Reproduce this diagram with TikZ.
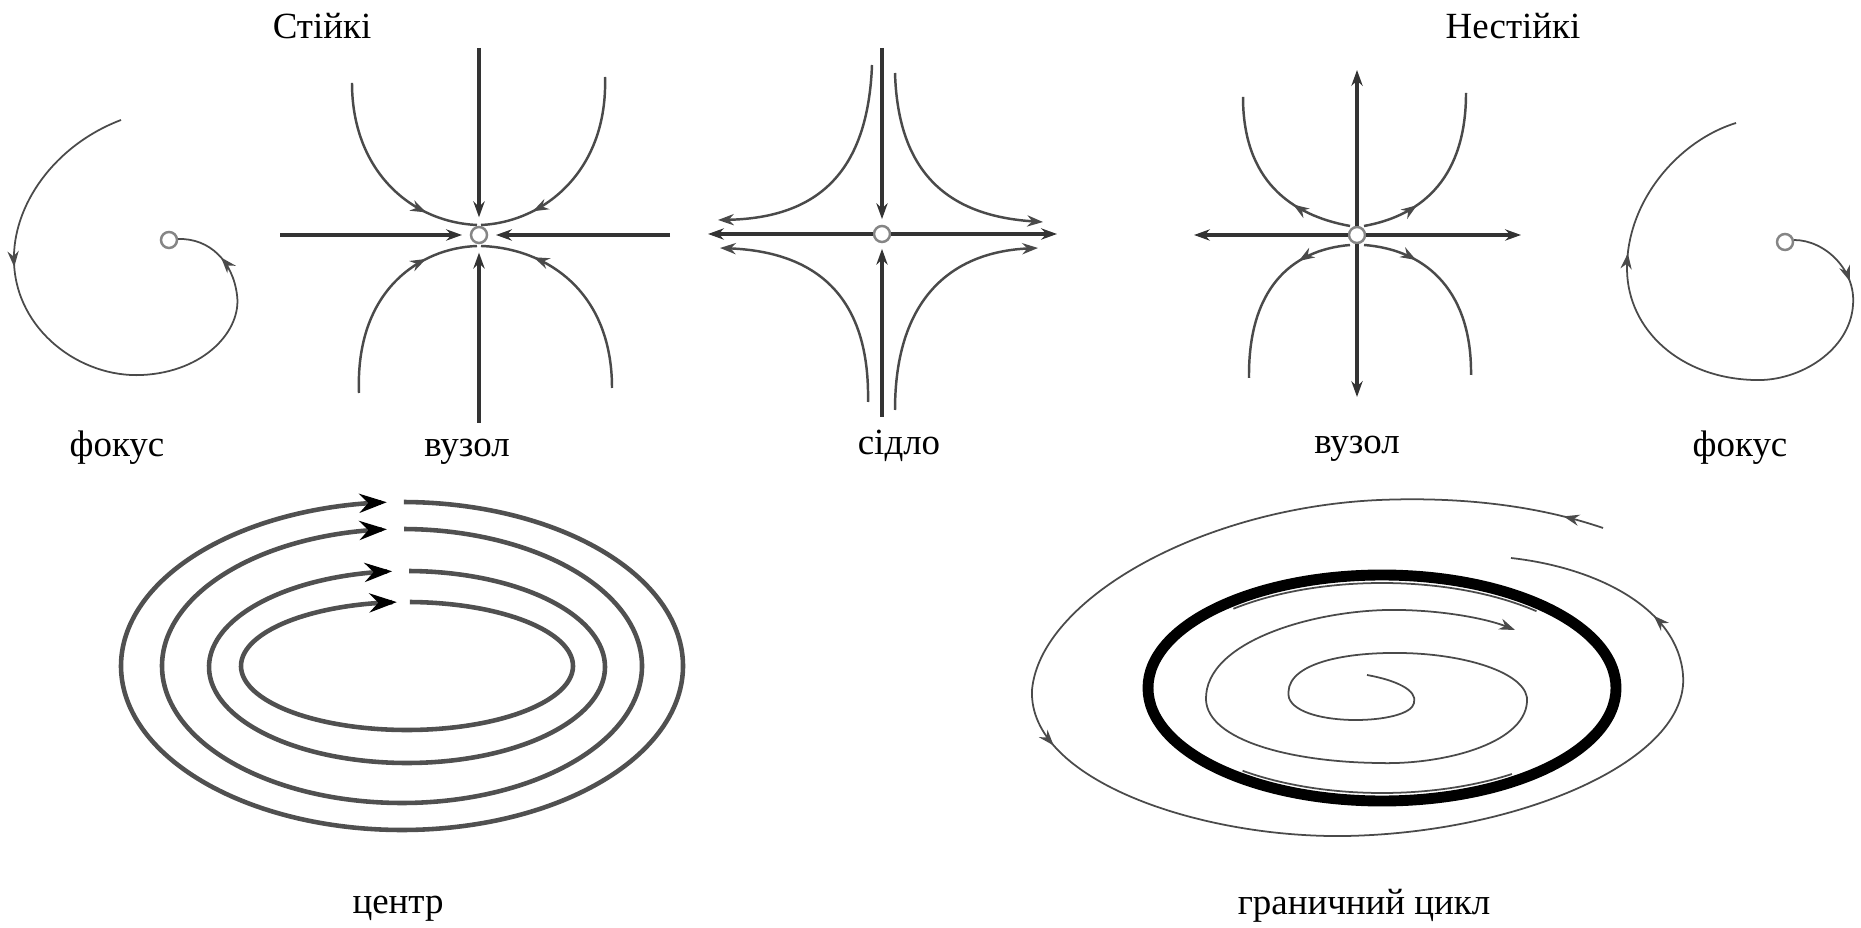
\documentclass[tikz,border=0pt]{standalone}
\usepackage{fontspec}
\setmainfont{Liberation Serif}
\usetikzlibrary{arrows.meta, decorations.markings}
\definecolor{trajgray}{HTML}{4A4A4A}
\definecolor{axisgray}{HTML}{333333}
\definecolor{ptgray}{HTML}{858585}
\definecolor{ringgray}{HTML}{505050}
\tikzset{
    sarrow/.tip={Stealth[length=4.5pt, width=3.2pt]},
    barrow/.tip={Stealth[length=7.8pt, width=5.4pt, color=black]},
}

\begin{document}
\begin{tikzpicture}[
    x=0.01cm, y=-0.01cm,
    lbl/.style={anchor=base, font=\fontsize{10.5}{12.6}\selectfont, inner sep=0pt},
    eqpt/.style={circle, draw=ptgray, line width=0.7pt, fill=white, minimum size=0.16cm, inner sep=0pt},
    axisline/.style={draw=axisgray, line width=0.9pt},
    orbit/.style={draw=trajgray, line width=0.7pt},
    spiral/.style={draw=trajgray, line width=0.5pt},
    arr/.style={-sarrow},
    flow/.style={postaction={decorate, decoration={markings, mark=at position #1 with {\arrow{sarrow}}}}},
    ring/.style={draw=ringgray, line width=1.3pt, -barrow},
    limitring/.style={draw=black, line width=3.1pt},
]
\useasboundingbox (0,0) rectangle (1861,928);

% headings
\node[lbl] (stable) at (322,39) {Стійкі};
\node[lbl] (unstable) at (1513,39) {Нестійкі};

% equilibrium points
\node[eqpt] (sfocus) at (169,240) {};
\node[eqpt] (snode) at (479,235) {};
\node[eqpt] (saddle) at (882,234) {};
\node[eqpt] (unode) at (1357,235) {};
\node[eqpt] (ufocus) at (1785,242) {};

% stable focus
\draw[spiral, flow=0.32, flow=0.92] (121,120) .. controls (55,145) and (12,205) .. (14,262)
    .. controls (16,330) and (80,378) .. (142,375)
    .. controls (205,372) and (242,330) .. (237,295)
    .. controls (233,262) and (210,238) .. (178,239);

% stable node
\draw[axisline, arr, shorten >=2.2pt] (280,235) -- (snode);
\draw[axisline, arr, shorten >=2.2pt] (670,235) -- (snode);
\draw[axisline, arr, shorten >=2.4pt] (479,48) -- (snode);
\draw[axisline, arr, shorten >=2.4pt] (479,423) -- (snode);
\draw[orbit, flow=0.75] (352,83) .. controls (352,170) and (410,222) .. (477,225);
\draw[orbit, flow=0.75] (605,77) .. controls (608,170) and (545,222) .. (481,225);
\draw[orbit, flow=0.75] (359,393) .. controls (355,290) and (420,248) .. (477,246);
\draw[orbit, flow=0.75] (612,388) .. controls (612,290) and (545,248) .. (481,246);

% saddle
\draw[axisline, arr, shorten >=1.6pt] (882,48) -- (saddle);
\draw[axisline, arr, shorten >=1.6pt] (882,417) -- (saddle);
\draw[axisline, arr] (saddle) -- (708,234);
\draw[axisline, arr] (saddle) -- (1057,234);
\draw[orbit, arr] (872,65) .. controls (868,170) and (820,218) .. (718,220);
\draw[orbit, arr] (895,73) .. controls (898,175) and (950,216) .. (1043,222);
\draw[orbit, arr] (868,402) .. controls (870,300) and (820,252) .. (720,248);
\draw[orbit, arr] (895,410) .. controls (895,300) and (950,252) .. (1038,248);

% unstable node
\draw[axisline, arr] (unode) -- (1194,235);
\draw[axisline, arr] (unode) -- (1521,235);
\draw[axisline, arr] (unode) -- (1357,70);
\draw[axisline, arr] (unode) -- (1357,397);
\draw[orbit, flow=0.33] (1350,226) .. controls (1290,215) and (1243,180) .. (1243,97);
\draw[orbit, flow=0.31] (1364,226) .. controls (1425,215) and (1466,175) .. (1466,93);
\draw[orbit, flow=0.29] (1350,245) .. controls (1290,250) and (1248,290) .. (1249,378);
\draw[orbit, flow=0.29] (1364,245) .. controls (1430,250) and (1472,295) .. (1471,375);

% unstable focus
\draw[spiral, flow=0.12, flow=0.71] (1794,240) .. controls (1825,240) and (1856,270) .. (1853,305)
    .. controls (1850,350) and (1800,382) .. (1754,380)
    .. controls (1680,378) and (1628,330) .. (1627,270)
    .. controls (1626,200) and (1680,140) .. (1736,123);

% top row captions
\node[lbl] (sfocuslbl) at (117,457) {фокус};
\node[lbl] (snodelbl) at (467,457) {вузол};
\node[lbl] (saddlelbl) at (899,455) {сідло};
\node[lbl] (unodelbl) at (1357,454) {вузол};
\node[lbl] (ufocuslbl) at (1740,457) {фокус};

% centre
\draw[ring] plot[domain=-89.6:266.9, samples=180, smooth] ({402+281*cos(\x)},{666+164*sin(\x)});
\draw[ring] plot[domain=-89.5:266.4, samples=180, smooth] ({402+240*cos(\x)},{666+137*sin(\x)});
\draw[ring] plot[domain=-89.4:265.7, samples=160, smooth] ({407+198*cos(\x)},{667+96*sin(\x)});
\draw[ring] plot[domain=-89.0:266.5, samples=160, smooth] ({407+166*cos(\x)},{666+64*sin(\x)});
\node[lbl] (centrelbl) at (398,913) {центр};

% limit cycle
\draw[limitring] (1382,688) ellipse [x radius=234, y radius=113];
\draw[spiral] plot[domain=-131:-47, samples=60, smooth] ({1382+226.5*cos(\x)},{688+105*sin(\x)});
\draw[spiral] plot[domain=55:128, samples=50, smooth] ({1382+226.5*cos(\x)},{688+105*sin(\x)});
\draw[spiral, arr] (1367,675) .. controls (1395,680) and (1418,690) .. (1414,703)
    .. controls (1410,725) and (1300,728) .. (1289,698)
    .. controls (1282,665) and (1340,652) .. (1401,653)
    .. controls (1470,654) and (1530,675) .. (1527,702)
    .. controls (1524,745) and (1440,765) .. (1379,763)
    .. controls (1290,762) and (1208,740) .. (1206,700)
    .. controls (1204,640) and (1320,608) .. (1401,610)
    .. controls (1450,611) and (1490,620) .. (1515,630);
\draw[spiral, flow=0.025, flow=0.43, flow=0.905] (1603,528) .. controls (1530,503) and (1450,497) .. (1379,500)
    .. controls (1200,508) and (1040,600) .. (1032,690)
    .. controls (1028,780) and (1200,838) .. (1345,836)
    .. controls (1520,833) and (1690,760) .. (1683,675)
    .. controls (1678,610) and (1600,568) .. (1511,558);
\node[lbl] (cyclelbl) at (1364,914) {граничний цикл};
\end{tikzpicture}
\end{document}
